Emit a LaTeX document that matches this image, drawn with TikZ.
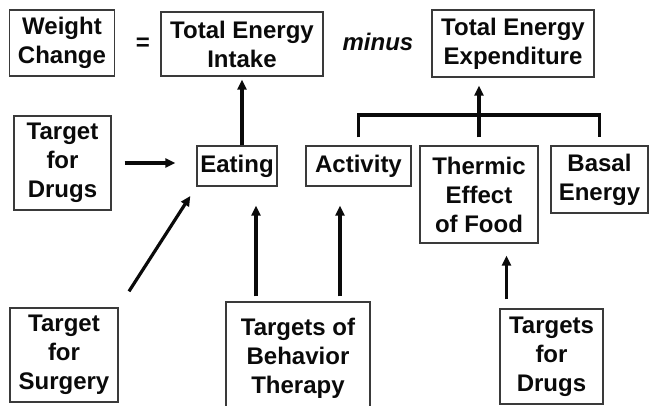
\documentclass[tikz,border=0pt]{standalone}
\usepackage{fontspec}
\setmainfont{Liberation Sans}
\usetikzlibrary{arrows.meta, calc}
\definecolor{cframe}{HTML}{3A3A3A}
\definecolor{cink}{HTML}{0A0A0A}
\tikzset{
  every picture/.style={font=\bfseries\fontsize{24}{29}\selectfont, text=cink},
  box/.style={draw=cframe, line width=1.4pt, align=center, inner sep=2pt},
  arrow/.style={-{Triangle[length=10pt, width=9pt]}, draw=cink, line width=3.2pt},
  bar/.style={draw=cink, line width=3.2pt},
  word/.style={font=\bfseries\itshape\fontsize{24}{29}\selectfont},
}

\begin{document}
\begin{tikzpicture}[x=1pt, y=-1pt]
  \useasboundingbox (0,0) rectangle (649,405);
  % the balance: weight change = intake minus expenditure
  \node[box, minimum width=105pt, minimum height=66pt] (weight) at (62,43) {Weight\\Change};
  \node (eq) at (143,44) {=};
  \node[box, minimum width=162pt, minimum height=64pt] (intake) at (242,44) {Total Energy\\Intake};
  \node[word] (minus) at (378,42) {minus};
  \node[box, minimum width=162pt, minimum height=67pt] (expend) at (513,43.5) {Total Energy\\Expenditure};
  % what each side is made of
  \node[box, minimum width=80pt, minimum height=40pt] (eating) at (237,166) {Eating};
  \node[box, minimum width=105pt, minimum height=40pt] (activity) at (358.5,166) {Activity};
  \node[box, minimum width=118pt, minimum height=97pt] (thermic) at (479,194.5) {Thermic\\Effect\\of Food};
  \node[box, minimum width=97pt, minimum height=67pt] (basal) at (599.5,179.5) {Basal\\Energy};
  % where treatment acts
  \node[box, minimum width=97pt, minimum height=94pt] (drugsL) at (62.5,163) {Target\\for\\Drugs};
  \node[box, minimum width=108pt, minimum height=94pt] (surgery) at (64,355) {Target\\for\\Surgery};
  \node[box, minimum width=144pt, minimum height=112pt] (behav) at (298,358) {Targets of\\Behavior\\Therapy};
  \node[box, minimum width=103pt, minimum height=95pt] (drugsR) at (551.5,356.5) {Targets\\for\\Drugs};
  % connectors
  \draw[arrow, shorten >=3pt] (eating.north -| intake.south) -- (intake.south);
  \coordinate (brk) at (480,115);
  \draw[bar] ([yshift=8pt]activity.north) |- (brk) -| ([yshift=8pt]basal.north);
  \draw[arrow, shorten >=8pt] ([yshift=8pt]thermic.north) -- (thermic.north |- expend.south);
  \draw[arrow, shorten <=13pt, shorten >=21pt] (drugsL.east) -- (drugsL.east -| eating.west);
  \draw[arrow, shorten <=19pt, shorten >=11pt] (surgery.north east) -- (eating.south west);
  \draw[arrow, shorten <=5pt, shorten >=19pt] ([xshift=-42pt]behav.north) -- ([xshift=-42pt]behav.north |- eating.south);
  \draw[arrow, shorten <=5pt, shorten >=19pt] ([xshift=42pt]behav.north) -- ([xshift=42pt]behav.north |- activity.south);
  \draw[arrow, shorten <=9pt, shorten >=12pt] ([xshift=-45pt]drugsR.north) -- ([xshift=-45pt]drugsR.north |- thermic.south);
\end{tikzpicture}
\end{document}
